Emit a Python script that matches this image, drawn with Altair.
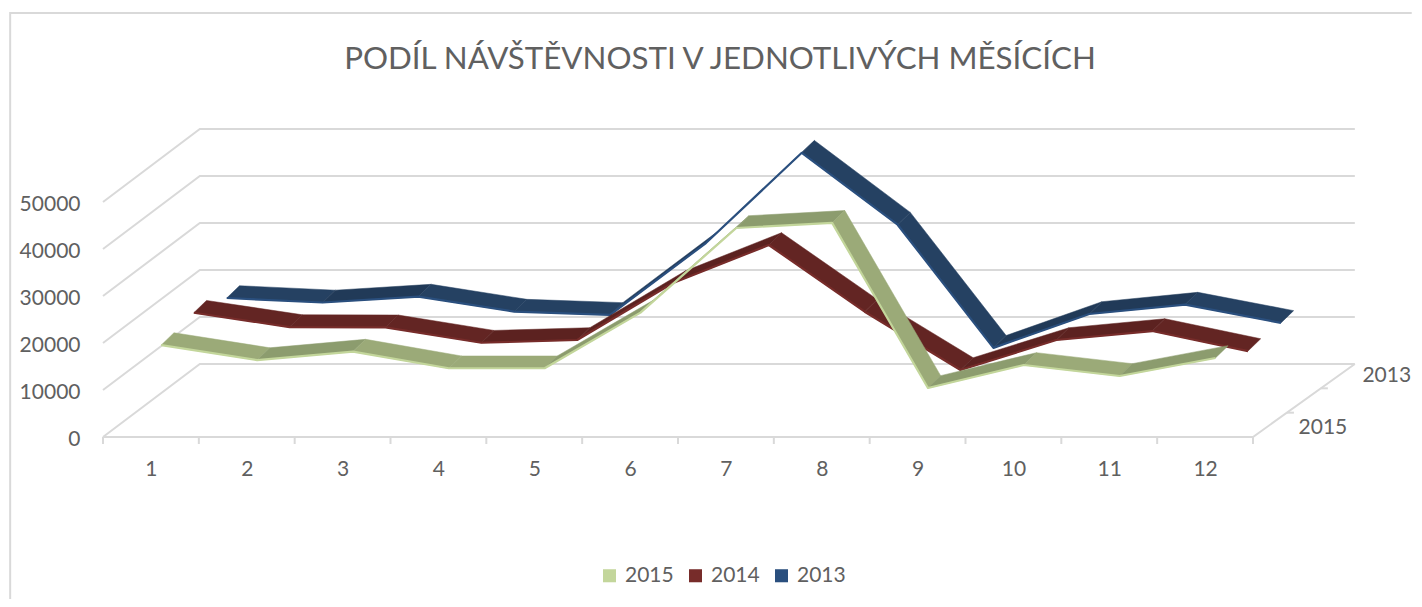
import altair as alt
import pandas as pd

months = list(range(1, 13))
series_names = ["2015", "2014", "2013"]
v2015 = [17900, 14700, 16500, 12960, 12960, 24800, 42800, 43900, 8770, 13660, 11320, 15150]
v2014 = [19550, 16500, 16450, 13170, 13750, 25870, 33960, 19770, 7360, 13750, 15660, 11400]
v2013 = [17400, 16450, 17700, 14500, 13800, 29100, 48300, 33000, 6800, 14000, 16000, 12100]
y_ticks = [0, 10000, 20000, 30000, 40000, 50000]
face_colors = {"2015": ("#9BAA78", "#8C9C6E"), "2014": ("#632523", "#5C2220"), "2013": ("#254162", "#213A58")}
edge_colors = {"2015": "#C3D69B", "2014": "#772C2A", "2013": "#2A4F7E"}

PXX = 96.0
PXY = 47.0 / 10000
depth_front = {"2015": 10.4, "2014": 43.0, "2013": 76.0}
series = {"2015": v2015, "2014": v2014, "2013": v2013}

def dep(px_x, px_y):
    return px_x / PXX, px_y / PXY

# ribbons
face_rows, edge_rows = [], []
for s in series_names:
    vals = series[s]
    fx, fy = dep(depth_front[s], depth_front[s] * 73 / 97)
    rx, ry = dep(12.7, 12.3)
    for i, (m, v) in enumerate(zip(months, vals)):
        edge_rows.append({"s": s, "x": m + fx, "y": v + fy, "o": i})
    for i in range(11):
        m0, m1, v0, v1 = months[i], months[i + 1], vals[i], vals[i + 1]
        shade = face_colors[s][1] if v1 > v0 else face_colors[s][0]
        corners = [(m0 + fx, v0 + fy), (m1 + fx, v1 + fy), (m1 + fx + rx, v1 + fy + ry),
                   (m0 + fx + rx, v0 + fy + ry), (m0 + fx, v0 + fy)]
        for j, (a, b) in enumerate(corners):
            face_rows.append({"s": s, "seg": i, "o": j, "x": a, "y": b, "shade": shade})
faces = pd.DataFrame(face_rows)
edges = pd.DataFrame(edge_rows)

# walls
bl_x, bl_y = dep(97, 73)
br_x, _ = dep(102, 73)
wall_rows = []
k = 0
for t in y_ticks:
    wall_rows += [{"k": k, "o": 0, "x": 0.5, "y": t}, {"k": k, "o": 1, "x": 0.5 + bl_x, "y": t + bl_y},
                  {"k": k, "o": 2, "x": 12.5 + br_x, "y": t + bl_y}]
    k += 1
wall_rows += [{"k": k, "o": 0, "x": 0.5, "y": 0}, {"k": k, "o": 1, "x": 12.5, "y": 0},
              {"k": k, "o": 2, "x": 12.5 + br_x, "y": bl_y}]
k += 1
for frac in (1 / 3, 2 / 3):
    wall_rows += [{"k": k, "o": 0, "x": 12.5 + br_x * frac, "y": bl_y * frac},
                  {"k": k, "o": 1, "x": 12.5 + br_x * frac + 7 / PXX, "y": bl_y * frac}]
    k += 1
for m in range(13):
    wall_rows += [{"k": k, "o": 0, "x": 0.5 + m, "y": 0}, {"k": k, "o": 1, "x": 0.5 + m, "y": -7 / PXY}]
    k += 1
# outer frame
wall_rows += [{"k": k, "o": 0, "x": 0.5 - 93 / PXX, "y": -162 / PXY},
              {"k": k, "o": 1, "x": 0.5 - 93 / PXX, "y": 424 / PXY},
              {"k": k, "o": 2, "x": 0.5 + 1311 / PXX, "y": 424 / PXY}]
walls = pd.DataFrame(wall_rows)

x_scale = alt.Scale(domain=[0.5, 12.5], nice=False, zero=False)
y_scale = alt.Scale(domain=[0, 50000], nice=False, zero=False)
FONT = "Lato"
GREY = "#606060"

X = alt.X("x:Q", scale=x_scale, title=None,
          axis=alt.Axis(values=months, format="d", domain=False, ticks=False, grid=False,
                        labelFont=FONT, labelFontSize=21, labelColor=GREY, labelPadding=21))
Y = alt.Y("y:Q", scale=y_scale, title=None,
          axis=alt.Axis(values=y_ticks, format="d", domain=False, ticks=False, grid=False, labelOffset=2,
                        labelFont=FONT, labelFontSize=21, labelColor=GREY, labelPadding=23))

wall_layer = alt.Chart(walls).mark_line(color="#D9D9D9", strokeWidth=2).encode(
    x=X, y=Y, detail="k:N", order="o:Q")

layers = [wall_layer]
for s in ["2013", "2014", "2015"]:
    layers.append(alt.Chart(faces[faces.s == s]).mark_line(strokeWidth=0.5, strokeJoin="round", fill=face_colors[s][0]).encode(
        x=alt.X("x:Q", scale=x_scale), y=alt.Y("y:Q", scale=y_scale),
        detail="seg:N", order="o:Q",
        fill=alt.Fill("shade:N", scale=None), stroke=alt.Stroke("shade:N", scale=None)))
    layers.append(alt.Chart(edges[edges.s == s]).mark_line(strokeWidth=2.2, strokeJoin="round").encode(
        x=alt.X("x:Q", scale=x_scale), y=alt.Y("y:Q", scale=y_scale), order="o:Q",
        stroke=alt.value(edge_colors[s])))

depth_labels = pd.DataFrame({
    "t": ["2015", "2013"],
    "x": [12.5 + br_x / 3 + 36 / PXX, 12.5 + br_x * 2 / 3 + 66 / PXX],
    "y": [bl_y / 3 - 15 / PXY, bl_y * 2 / 3 + 12 / PXY],
})
layers.append(alt.Chart(depth_labels).mark_text(font=FONT, fontSize=21, color=GREY).encode(
    x=alt.X("x:Q", scale=x_scale), y=alt.Y("y:Q", scale=y_scale), text="t:N"))

legend_data = pd.DataFrame({"s": series_names, "x": [months[0]] * 3, "y": [v2015[0], v2014[0], v2013[0]]})
layers.append(alt.Chart(legend_data).mark_point(shape="square", filled=True, size=0, opacity=1).encode(
    x=alt.X("x:Q", scale=x_scale), y=alt.Y("y:Q", scale=y_scale),
    color=alt.Color("s:N", scale=alt.Scale(domain=series_names, range=[edge_colors[s] for s in series_names]),
                    sort=series_names, title=None,
                    legend=alt.Legend(orient="none", legendX=496, legendY=363, direction="horizontal",
                                      symbolType="square", symbolSize=170, symbolOpacity=1,
                                      labelFont=FONT, labelFontSize=21, labelColor=GREY,
                                      columnPadding=11, labelOffset=5, title=None))))

chart = alt.layer(*layers).properties(
    width=1150, height=235,
    padding={"left": 95, "top": 194, "right": 161, "bottom": 162},
    autosize=alt.AutoSizeParams(type="none"),
    title=alt.TitleParams("PODÍL NÁVŠTĚVNOSTI V JEDNOTLIVÝCH MĚSÍCÍCH", font=FONT, fontSize=31.3, fontWeight="normal",
                          color=GREY, anchor="middle", dx=42, offset=0, dy=66),
).configure_view(stroke=None)

chart.save("out.html", embed_options={"renderer": "svg", "actions": False})
